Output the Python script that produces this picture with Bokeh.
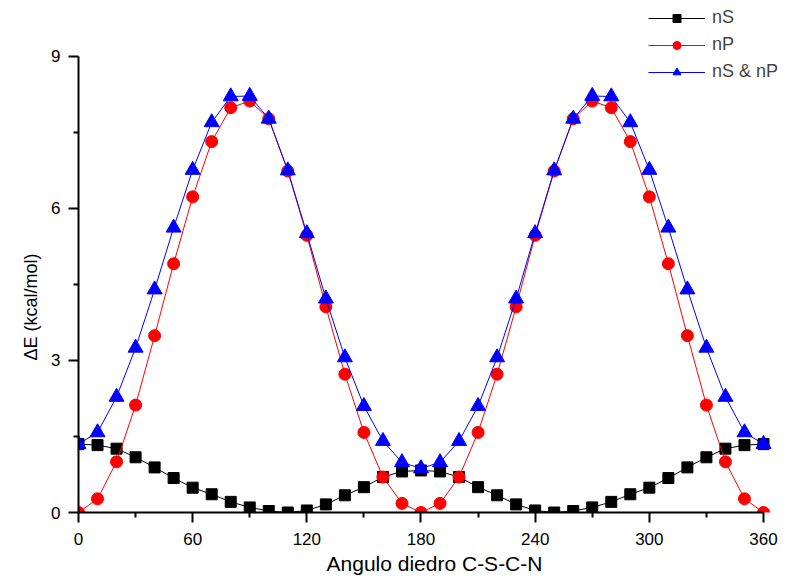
from bokeh.plotting import figure
from bokeh.models import Range1d, FixedTicker, Legend, LegendItem, Title
from bokeh.embed import file_html
from bokeh.resources import INLINE

angles = list(range(0, 361, 10))
nS = [1.35, 1.33, 1.26, 1.09, 0.89, 0.68, 0.49, 0.36, 0.21, 0.10, 0.03, 0.0, 0.04,
      0.16, 0.34, 0.50, 0.70, 0.81, 0.83, 0.81, 0.70, 0.50, 0.34, 0.16, 0.04, 0.0,
      0.03, 0.10, 0.21, 0.36, 0.49, 0.68, 0.89, 1.09, 1.26, 1.33, 1.35]
nP = [0.0, 0.27, 1.00, 2.12, 3.49, 4.91, 6.23, 7.32, 7.99, 8.12, 7.77, 6.74, 5.47,
      4.06, 2.73, 1.58, 0.70, 0.18, 0.0, 0.18, 0.70, 1.58, 2.73, 4.06, 5.47, 6.74,
      7.77, 8.12, 7.99, 7.32, 6.23, 4.91, 3.49, 2.12, 1.00, 0.27, 0.0]
nSnP = [1.35, 1.58, 2.28, 3.25, 4.40, 5.62, 6.76, 7.70, 8.21, 8.22, 7.77, 6.75, 5.51,
        4.22, 3.06, 2.10, 1.41, 0.99, 0.87, 0.99, 1.41, 2.10, 3.06, 4.22, 5.51, 6.75,
        7.77, 8.22, 8.21, 7.70, 6.76, 5.62, 4.40, 3.25, 2.28, 1.58, 1.35]

x_major = [0, 60, 120, 180, 240, 300, 360]
x_minor = [30, 90, 150, 210, 270, 330]
y_major = [0, 3, 6, 9]
y_minor = [1.5, 4.5, 7.5]

FONT = "Liberation Sans"

# frame is extended past the axes' bounds so the legend (above the axes) is not clipped
p = figure(width=790, height=579, output_backend="svg", toolbar_location=None,
           x_range=Range1d(0, 374.19), y_range=Range1d(0, 10.105),
           min_border_left=78, min_border_right=0, min_border_top=0,
           min_border_bottom=67)
p.outline_line_color = None
p.grid.visible = False
p.background_fill_color = "white"
p.border_fill_color = "white"

p.xaxis.ticker = FixedTicker(ticks=x_major, minor_ticks=x_minor)
p.yaxis.ticker = FixedTicker(ticks=y_major, minor_ticks=y_minor)
p.xaxis.bounds = (0, 360)
p.yaxis.bounds = (0, 9)
for ax in (p.xaxis, p.yaxis):
    ax.axis_line_width = 2
    ax.axis_line_color = "black"
    ax.major_tick_line_width = 2
    ax.minor_tick_line_width = 2
    ax.major_tick_out = 10
    ax.major_tick_in = 0
    ax.minor_tick_out = 5
    ax.minor_tick_in = 0
    ax.major_label_text_font = FONT
    ax.major_label_text_font_size = "17px"
    ax.major_label_text_color = "black"
    ax.axis_label_text_font = FONT
    ax.axis_label_text_font_style = "normal"
    ax.axis_label_text_color = "black"

p.xaxis.axis_label = "Angulo diedro C-S-C-N"
p.xaxis.axis_label_text_font_size = "21px"
p.xaxis.major_label_standoff = 10
p.xaxis.axis_label_standoff = 4
p.yaxis.major_label_standoff = 8

# y-axis title placed as a left-side title so it can sit where the reference has it
ytitle = Title(text="ΔE (kcal/mol)", align="left", offset=152,
               text_font=FONT, text_font_size="18px", text_font_style="normal",
               text_color="black", standoff=15)
p.add_layout(ytitle, "left")

l1 = p.line(angles, nS, line_color="black", line_width=1)
m1 = p.scatter(angles, nS, marker="square", size=11, fill_color="black", line_color="black")
l2 = p.line(angles, nP, line_color="red", line_width=1)
m2 = p.scatter(angles, nP, marker="circle", size=12, fill_color="red", line_color="red")
l3 = p.line(angles, nSnP, line_color="blue", line_width=1)
m3 = p.scatter(angles, nSnP, marker="triangle", size=15, fill_color="blue", line_color="blue")

legend = Legend(items=[LegendItem(label="nS", renderers=[l1, m1]),
                       LegendItem(label="nP", renderers=[l2, m2]),
                       LegendItem(label="nS & nP", renderers=[l3, m3])],
                location=(570, 430), padding=0, margin=0, spacing=6,
                glyph_width=57, glyph_height=20, label_height=20,
                label_standoff=7, border_line_color=None,
                background_fill_alpha=0,
                label_text_font=FONT, label_text_font_size="18px")
p.add_layout(legend, "center")

open("out.html", "w").write(file_html(p, INLINE))
